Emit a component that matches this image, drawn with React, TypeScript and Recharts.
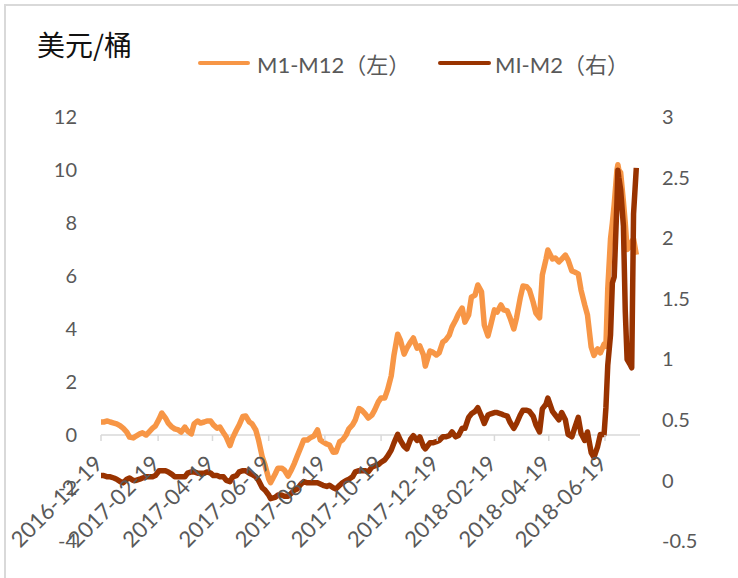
import React from 'react';
import { LineChart, Line, XAxis, YAxis, ReferenceLine } from 'recharts';

const dates = [
  '2016-12-19', '2016-12-22', '2016-12-26', '2016-12-29', '2017-01-02', '2017-01-05', '2017-01-09',
  '2017-01-12', '2017-01-16', '2017-01-19', '2017-01-23', '2017-01-26', '2017-01-30', '2017-02-02',
  '2017-02-06', '2017-02-09', '2017-02-13', '2017-02-16', '2017-02-20', '2017-02-23', '2017-02-27',
  '2017-03-02', '2017-03-06', '2017-03-09', '2017-03-13', '2017-03-16', '2017-03-20', '2017-03-23',
  '2017-03-27', '2017-03-30', '2017-04-03', '2017-04-06', '2017-04-10', '2017-04-13', '2017-04-17',
  '2017-04-20', '2017-04-24', '2017-04-27', '2017-05-01', '2017-05-04', '2017-05-08', '2017-05-11',
  '2017-05-15', '2017-05-18', '2017-05-22', '2017-05-25', '2017-05-29', '2017-06-01', '2017-06-05',
  '2017-06-08', '2017-06-12', '2017-06-15', '2017-06-19', '2017-06-21', '2017-06-26', '2017-06-29',
  '2017-07-03', '2017-07-06', '2017-07-10', '2017-07-13', '2017-07-17', '2017-07-20', '2017-07-24',
  '2017-07-27', '2017-07-31', '2017-08-03', '2017-08-07', '2017-08-11', '2017-08-14', '2017-08-17',
  '2017-08-21', '2017-08-24', '2017-08-28', '2017-08-31', '2017-09-04', '2017-09-07', '2017-09-11',
  '2017-09-14', '2017-09-18', '2017-09-21', '2017-09-25', '2017-09-28', '2017-10-02', '2017-10-05',
  '2017-10-09', '2017-10-12', '2017-10-16', '2017-10-19', '2017-10-23', '2017-10-26', '2017-10-30',
  '2017-11-02', '2017-11-06', '2017-11-09', '2017-11-13', '2017-11-16', '2017-11-20', '2017-11-23',
  '2017-11-27', '2017-11-30', '2017-12-04', '2017-12-06', '2017-12-11', '2017-12-14', '2017-12-18',
  '2017-12-21', '2017-12-25', '2017-12-28', '2018-01-01', '2018-01-04', '2018-01-08', '2018-01-11',
  '2018-01-15', '2018-01-18', '2018-01-22', '2018-01-25', '2018-01-29', '2018-02-01', '2018-02-05',
  '2018-02-08', '2018-02-12', '2018-02-15', '2018-02-19', '2018-02-22', '2018-02-26', '2018-03-01',
  '2018-03-05', '2018-03-08', '2018-03-12', '2018-03-15', '2018-03-19', '2018-03-22', '2018-03-26',
  '2018-03-29', '2018-04-02', '2018-04-05', '2018-04-09', '2018-04-12', '2018-04-16', '2018-04-18',
  '2018-04-23', '2018-04-26', '2018-04-30', '2018-05-03', '2018-05-07', '2018-05-10', '2018-05-14',
  '2018-05-17', '2018-05-21', '2018-05-24', '2018-05-28', '2018-05-31', '2018-06-04', '2018-06-07',
  '2018-06-11', '2018-06-14', '2018-06-18', '2018-06-20', '2018-06-22', '2018-06-25', '2018-06-27',
  '2018-06-29', '2018-07-02', '2018-07-03', '2018-07-04', '2018-07-06', '2018-07-09', '2018-07-11',
  '2018-07-13', '2018-07-16', '2018-07-18', '2018-07-20', '2018-07-23',
];

// M1-M12 (left axis, USD/bbl)
const m1m12 = [
  0.49, 0.49, 0.53, 0.49, 0.45, 0.42, 0.34,
  0.26, 0.11, -0.08, -0.11, -0.04, 0.04, 0.08,
  0.0, 0.11, 0.26, 0.34, 0.6, 0.83, 0.64,
  0.45, 0.3, 0.23, 0.19, 0.11, 0.3, 0.15,
  0.04, 0.42, 0.53, 0.45, 0.49, 0.53, 0.53,
  0.38, 0.26, 0.3, 0.08, -0.08, -0.4, -0.1,
  0.19, 0.38, 0.7, 0.72, 0.49, 0.42, 0.19,
  -0.19, -0.83, -1.13, -1.65, -1.8, -1.47, -1.25,
  -1.25, -1.32, -1.55, -1.36, -1.06, -0.79, -0.45,
  -0.19, -0.19, -0.11, -0.04, 0.19, -0.19, -0.26,
  -0.34, -0.38, -0.65, -0.64, -0.26, -0.19, 0.0,
  0.23, 0.38, 0.57, 1.0, 0.94, 0.79, 0.64,
  0.75, 0.94, 1.25, 1.4, 1.4, 1.7, 2.23,
  3.02, 3.8, 3.58, 3.05, 3.28, 3.51, 3.66,
  3.28, 3.36, 3.02, 2.6, 3.17, 3.13, 3.02,
  3.1, 3.51, 3.58, 3.77, 4.08, 4.34, 4.57,
  4.79, 4.26, 4.53, 5.2, 5.28, 5.66, 5.4,
  4.15, 3.74, 4.15, 4.72, 4.64, 4.91, 4.72,
  4.68, 4.42, 4.0, 4.42, 5.17, 5.62, 5.6,
  5.47, 5.02, 4.6, 4.42, 6.04, 6.64, 6.98,
  6.64, 6.68, 6.53, 6.64, 6.79, 6.6, 6.19,
  6.15, 6.08, 5.47, 4.91, 4.53, 3.32, 3.0,
  3.25, 3.1, 3.43, 3.35, 5.5, 7.4, 8.0,
  8.7, 10.0, 10.2, 10.0, 9.9, 8.8, 8.0,
  7.0, 7.1, 7.3, 7.4, 6.8,
];

// MI-M2 (right axis)
const mim2 = [
  0.04, 0.04, 0.03, 0.03, 0.02, 0.01, -0.01,
  -0.02, 0.01, 0.02, 0.0, 0.0, 0.01, 0.02,
  0.03, 0.03, 0.03, 0.04, 0.08, 0.08, 0.08,
  0.07, 0.05, 0.03, 0.03, 0.03, 0.03, 0.06,
  0.07, 0.07, 0.06, 0.06, 0.06, 0.07, 0.06,
  0.04, 0.04, 0.03, 0.03, 0.0, -0.01, 0.03,
  0.04, 0.07, 0.08, 0.08, 0.06, 0.05, 0.03,
  0.0, -0.06, -0.08, -0.12, -0.15, -0.14, -0.12,
  -0.12, -0.13, -0.13, -0.11, -0.08, -0.07, -0.03,
  -0.01, -0.02, -0.02, -0.02, -0.02, -0.03, -0.04,
  -0.05, -0.04, -0.06, -0.07, -0.04, -0.02, 0.0,
  0.01, 0.03, 0.07, 0.08, 0.08, 0.08, 0.07,
  0.11, 0.12, 0.13, 0.15, 0.17, 0.2, 0.25,
  0.31, 0.38, 0.33, 0.28, 0.26, 0.34, 0.37,
  0.33, 0.36, 0.28, 0.26, 0.31, 0.31, 0.32,
  0.33, 0.36, 0.36, 0.37, 0.4, 0.36, 0.37,
  0.43, 0.43, 0.52, 0.55, 0.57, 0.6, 0.53,
  0.47, 0.54, 0.55, 0.56, 0.56, 0.55, 0.54,
  0.53, 0.48, 0.43, 0.47, 0.54, 0.58, 0.58,
  0.57, 0.53, 0.46, 0.4, 0.59, 0.63, 0.68,
  0.57, 0.54, 0.5, 0.56, 0.5, 0.38, 0.36,
  0.43, 0.52, 0.39, 0.33, 0.4, 0.23, 0.19,
  0.28, 0.38, 0.38, 0.6, 0.95, 1.2, 1.63,
  1.68, 2.3, 2.56, 2.5, 2.4, 2.1, 1.4,
  1.0, 0.96, 0.93, 2.2, 2.58,
];

const xTickDates = [
  '2016-12-19', '2017-02-19', '2017-04-19', '2017-06-19', '2017-08-19',
  '2017-10-19', '2017-12-19', '2018-02-19', '2018-04-19', '2018-06-19',
];
const xDomainDates = ['2016-12-19', '2018-07-27'];
const leftTicks = [-4, -2, 0, 2, 4, 6, 8, 10, 12];
const rightTicks = [-0.5, 0, 0.5, 1, 1.5, 2, 2.5, 3];

const toT = (s: string) => Date.UTC(+s.slice(0, 4), +s.slice(5, 7) - 1, +s.slice(8, 10));
const fmt = (t: number) => new Date(t).toISOString().slice(0, 10);

const data = dates.map((d, i) => ({ t: toT(d), a: m1m12[i], b: mim2[i] }));

const W = 738;
const H = 578;
const TOP = 117;
const LEFT_W = 101;
const RIGHT_W = 98;
const X_H = 37;
const PLOT_H = H - TOP - X_H;
const LMIN = leftTicks[0];
const LMAX = leftTicks[leftTicks.length - 1];
const ZERO_Y = TOP + (PLOT_H * (LMAX - 0)) / (LMAX - LMIN);

const FONT = 'Lato, "Noto Sans CJK SC", sans-serif';
const GREY = '#595959';
const ORANGE = '#F79646';
const BROWN = '#993300';

const XTick = (props: any) => {
  const { x, payload } = props;
  const ax = x + 3;
  const ay = ZERO_Y + 30;
  return (
    <g>
      <line x1={x} x2={x} y1={ZERO_Y} y2={ZERO_Y + 6} stroke="#D9D9D9" strokeWidth={1.5} />
      <text
        x={ax}
        y={ay}
        transform={`rotate(-45 ${ax} ${ay})`}
        textAnchor="end"
        fill={GREY}
        fontSize={22}
        fontFamily={FONT}
      >
        {fmt(payload.value)}
      </text>
    </g>
  );
};

export default function App() {
  return (
    <div style={{ position: 'absolute', left: 0, top: 0, width: W, height: H, background: '#fff', overflow: 'hidden' }}>
      <div style={{ position: 'absolute', left: 4, top: 4, width: W, height: H, borderTop: '2px solid #D9D9D9', borderLeft: '2px solid #D9D9D9' }} />
      <div style={{ position: 'absolute', left: 37, top: 30, fontFamily: '"Noto Sans CJK SC", sans-serif', fontSize: 28, lineHeight: '28px', color: '#111' }}>
        美元/桶
      </div>
      <div style={{ position: 'absolute', left: 198, top: 50, height: 26, display: 'flex', alignItems: 'center', fontFamily: FONT, fontSize: 22, color: GREY, whiteSpace: 'nowrap' }}>
        <span style={{ display: 'inline-block', width: 52, height: 4, background: ORANGE, borderRadius: 2, marginRight: 7 }} />
        <span>M1-M12（左）</span>
      </div>
      <div style={{ position: 'absolute', left: 438, top: 50, height: 26, display: 'flex', alignItems: 'center', fontFamily: FONT, fontSize: 22, color: GREY, whiteSpace: 'nowrap' }}>
        <span style={{ display: 'inline-block', width: 53, height: 4, background: BROWN, borderRadius: 2, marginRight: 4 }} />
        <span>MI-M2（右）</span>
      </div>
      <div style={{ position: 'absolute', left: 0, top: 0 }}>
        <LineChart width={W} height={H} data={data} margin={{ top: TOP, right: 0, bottom: 0, left: 0 }}>
          <XAxis
            dataKey="t"
            type="number"
            domain={xDomainDates.map(toT)}
            ticks={xTickDates.map(toT)}
            interval={0}
            height={X_H}
            axisLine={false}
            tickLine={false}
            tick={<XTick />}
            allowDataOverflow
          />
          <YAxis
            yAxisId="left"
            orientation="left"
            width={LEFT_W}
            domain={[LMIN, LMAX]}
            ticks={leftTicks}
            interval={0}
            axisLine={false}
            tickLine={false}
            tickSize={0}
            tickMargin={24}
            tick={{ fill: GREY, fontSize: 20, fontFamily: FONT }}
          />
          <YAxis
            yAxisId="right"
            orientation="right"
            width={RIGHT_W}
            domain={[rightTicks[0], rightTicks[rightTicks.length - 1]]}
            ticks={rightTicks}
            interval={0}
            axisLine={false}
            tickLine={false}
            tickSize={0}
            tickMargin={22}
            tick={{ fill: GREY, fontSize: 20, fontFamily: FONT, textAnchor: 'start' }}
          />
          <ReferenceLine yAxisId="left" y={0} stroke="#D9D9D9" strokeWidth={1.5} />
          <Line
            yAxisId="left"
            type="linear"
            dataKey="a"
            stroke={ORANGE}
            strokeWidth={5.5}
            dot={false}
            isAnimationActive={false}
            strokeLinejoin="round"
          />
          <Line
            yAxisId="right"
            type="linear"
            dataKey="b"
            stroke={BROWN}
            strokeWidth={5.5}
            dot={false}
            isAnimationActive={false}
            strokeLinejoin="round"
          />
        </LineChart>
      </div>
    </div>
  );
}
